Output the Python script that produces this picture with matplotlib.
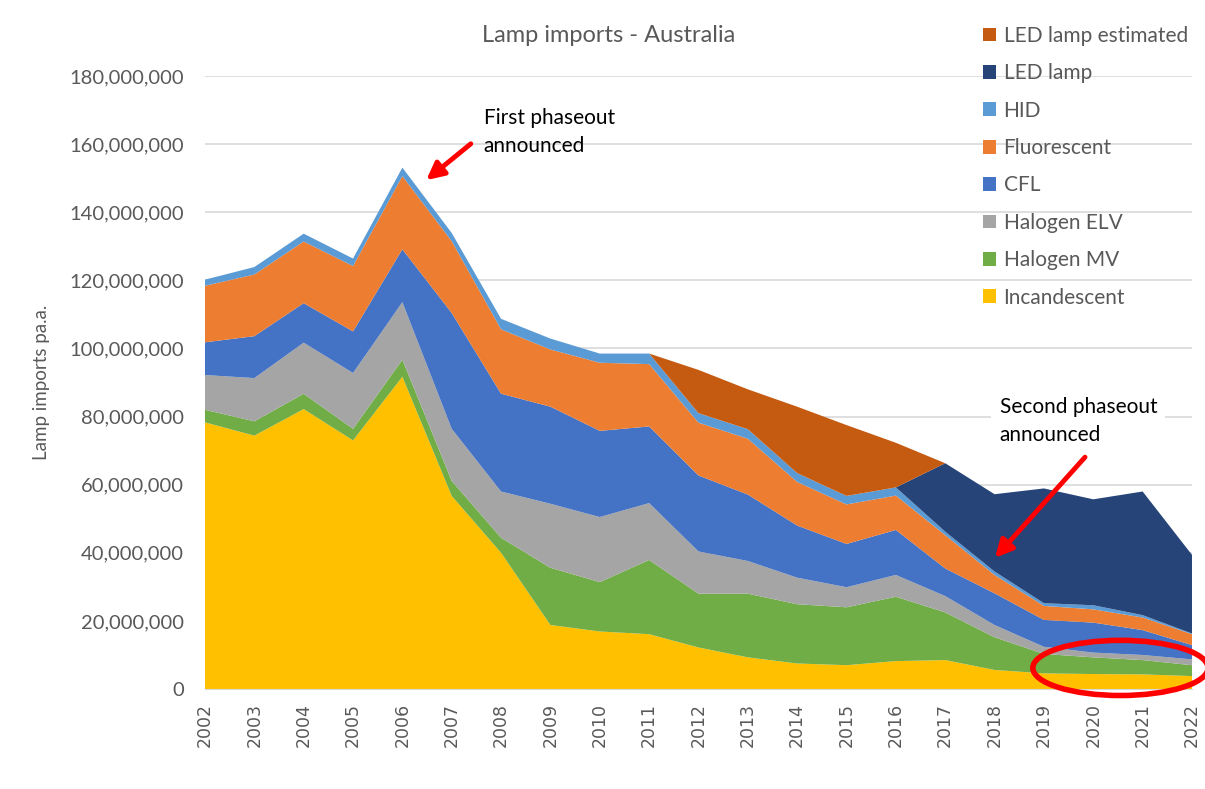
import matplotlib
matplotlib.use('Agg')
import matplotlib.pyplot as plt
from matplotlib.patches import Ellipse
from matplotlib.ticker import FuncFormatter

plt.rcParams['font.family'] = ['Lato', 'DejaVu Sans']

# data, millions of lamps
years = list(range(2002, 2023))
incandescent = [78.3, 74.4, 82.2, 73.0, 91.7, 56.7, 40.0, 18.8, 16.9, 16.1, 12.2,
                9.3, 7.5, 7.0, 8.2, 8.5, 5.6, 4.6, 4.4, 4.3, 3.8]
halogen_mv = [3.7, 4.2, 4.5, 3.4, 5.0, 4.4, 4.4, 16.8, 14.5, 21.8, 15.8,
              18.7, 17.4, 17.0, 18.9, 14.0, 9.6, 5.7, 4.9, 4.2, 3.2]
halogen_elv = [10.2, 12.7, 15.0, 16.4, 16.9, 15.3, 13.6, 18.8, 19.1, 16.7, 12.4,
               9.6, 7.8, 5.9, 6.4, 4.8, 3.6, 2.1, 1.4, 1.5, 1.7]
cfl = [9.6, 12.3, 11.6, 12.2, 15.5, 34.0, 28.7, 28.5, 25.3, 22.5, 22.3,
       19.5, 15.3, 12.7, 13.2, 8.1, 9.3, 7.9, 8.8, 7.3, 4.2]
fluorescent = [16.6, 18.1, 18.1, 19.2, 21.5, 21.1, 18.9, 16.8, 20.0, 18.3, 15.5,
               16.4, 12.8, 11.6, 10.1, 9.8, 5.4, 4.1, 3.9, 3.7, 3.2]
hid = [1.8, 2.2, 2.3, 2.2, 2.5, 2.4, 3.1, 3.2, 2.7, 3.1, 2.8,
       2.8, 2.6, 2.5, 2.4, 1.0, 1.0, 0.8, 1.2, 0.7, 0.2]
led_lamp = [0, 0, 0, 0, 0, 0, 0, 0, 0, 0, 0,
            0, 0, 0, 0, 20.1, 22.7, 33.7, 31.1, 36.3, 23.1]
led_estimated = [0, 0, 0, 0, 0, 0, 0, 0, 0, 0, 12.7,
                 11.7, 19.5, 20.8, 13.1, 0, 0, 0, 0, 0, 0]

labels = ['Incandescent', 'Halogen MV', 'Halogen ELV', 'CFL', 'Fluorescent',
          'HID', 'LED lamp', 'LED lamp estimated']
colors = ['#FFC000', '#70AD47', '#A5A5A5', '#4472C4', '#ED7D31',
          '#5B9BD5', '#264478', '#C55A11']

series = [incandescent, halogen_mv, halogen_elv, cfl, fluorescent, hid,
          led_lamp, led_estimated]
series = [[v * 1e6 for v in s] for s in series]

fig = plt.figure(figsize=(12.05, 7.89), dpi=100)
ax = fig.add_axes([0.1701, 0.1267, 0.8191, 0.777])

polys = ax.stackplot(years, *series, colors=colors, labels=labels, linewidth=0)

ax.set_xlim(2002, 2022)
ax.set_ylim(0, 180e6)
ax.set_yticks(range(0, 180000001, 20000000))
ax.yaxis.set_major_formatter(FuncFormatter(lambda v, p: f'{int(v):,}'))
ax.set_xticks(years)
ax.set_xticklabels([str(y) for y in years], rotation=90, family='DejaVu Sans')
ax.grid(axis='y', color='#D9D9D9', lw=1.2)
ax.set_axisbelow(True)
for s in ['top', 'right', 'left']:
    ax.spines[s].set_visible(False)
ax.spines['bottom'].set_color('#D9D9D9')
ax.tick_params(axis='both', length=0, colors='#595959')
ax.tick_params(axis='y', pad=15, labelsize=14.5)
ax.tick_params(axis='x', pad=10, labelsize=12.5)

ax.set_ylabel('Lamp imports pa.a.', color='#595959', fontsize=13.5, labelpad=14)
fig.text(0.505, 0.955, 'Lamp imports - Australia', ha='center', va='center',
         color='#595959', fontsize=17)

# legend, top series first
handles, labs = ax.get_legend_handles_labels()
leg = fig.legend(handles[::-1], labs[::-1], loc='upper left',
                 bbox_to_anchor=(0.8, 0.991), frameon=False, fontsize=15,
                 handlelength=0.65, handleheight=0.65, handletextpad=0.35,
                 labelspacing=0.835, labelcolor='#595959')

# annotations
ax.annotate('', xy=(2006.44, 148.9e6), xytext=(2007.43, 160.6e6),
            arrowprops=dict(arrowstyle='-|>', color='red', lw=3.5,
                            mutation_scale=26))
ax.text(2007.65, 163.5e6, 'First phaseout\nannounced', ha='left', va='center',
        fontsize=15, color='black', linespacing=1.5)

ax.annotate('', xy=(2017.97, 37.9e6), xytext=(2019.87, 68.7e6),
            arrowprops=dict(arrowstyle='-|>', color='red', lw=3.5,
                            mutation_scale=26))
ax.text(2018.1, 78.7e6, 'Second phaseout\nannounced', ha='left', va='center',
        fontsize=15, color='black', linespacing=1.5,
        bbox=dict(facecolor='white', edgecolor='none', pad=6))

ax.add_patch(Ellipse((2020.55, 6.2e6), 3.55, 16.2e6, fill=False,
                     edgecolor='red', lw=4, clip_on=False, zorder=5))

fig.savefig('out.png', dpi=100)
